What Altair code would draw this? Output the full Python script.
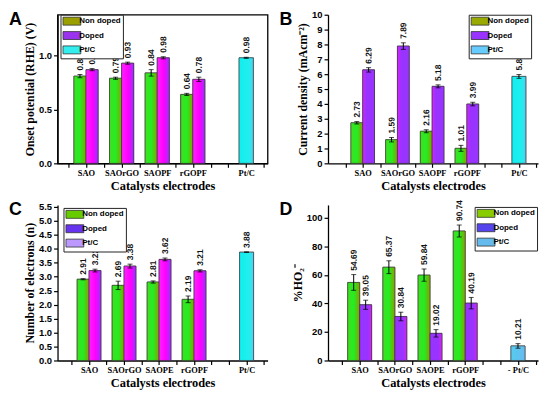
import altair as alt
import pandas as pd

series = ["Non doped", "Doped", "Pt/C"]
cat_pos = [1, 2, 3, 4, 5.5]

# Panel A: onset potential
A_cats = ["SAO", "SAOrGO", "SAOPF", "rGOPF", "Pt/C"]
A_non = [0.81, 0.79, 0.84, 0.64]
A_non_err = [0.015, 0.01, 0.03, 0.01]
A_dop = [0.87, 0.93, 0.98, 0.78]
A_dop_err = [0.01, 0.01, 0.01, 0.02]
A_pt = [0.98]
A_pt_err = [0.005]

# Panel B: current density
B_cats = ["SAO", "SAOrGO", "SAOPF", "rGOPF", "Pt/C"]
B_non = [2.73, 1.59, 2.16, 1.01]
B_non_err = [0.08, 0.15, 0.1, 0.2]
B_dop = [6.29, 7.89, 5.18, 3.99]
B_dop_err = [0.15, 0.22, 0.1, 0.12]
B_pt = [5.85]
B_pt_err = [0.13]

# Panel C: number of electrons
C_cats = ["SAO", "SAOrGO", "SAOPE", "rGOPF", "Pt/C"]
C_non = [2.91, 2.69, 2.81, 2.19]
C_non_err = [0.02, 0.15, 0.04, 0.12]
C_dop = [3.22, 3.38, 3.62, 3.21]
C_dop_err = [0.05, 0.07, 0.05, 0.04]
C_pt = [3.88]
C_pt_err = [0.01]

# Panel D: %HO2-
D_cats = ["SAO", "SAOrGO", "SAOPE", "rGOPF", "- Pt/C"]
D_non = [54.69, 65.37, 59.84, 90.74]
D_non_err = [5.5, 4.5, 4.3, 4.2]
D_dop = [39.05, 30.84, 19.02, 40.19]
D_dop_err = [3.2, 3.0, 2.6, 4.0]
D_pt = [10.21]
D_pt_err = [1.6]


def make_df(cats, non, non_err, dop, dop_err, pt, pt_err):
    rows = []
    for i in range(4):
        rows.append(dict(cat=cats[i], pos=cat_pos[i], series="Non doped", value=non[i], err=non_err[i]))
        rows.append(dict(cat=cats[i], pos=cat_pos[i], series="Doped", value=dop[i], err=dop_err[i]))
    rows.append(dict(cat=cats[4], pos=cat_pos[4], series="Pt/C", value=pt[0], err=pt_err[0]))
    return pd.DataFrame(rows)


def grad(stops):
    return alt.LinearGradient(
        gradient="linear", x1=0, x2=1, y1=0, y2=0,
        stops=[alt.GradientStop(offset=o, color=c) for o, c in stops],
    )


def panel(letter, df, cats, xdom, ydom, yvals, yfmt, ytitle, legend_colors, grads, lx, ly,
          frame=False):
    label_expr = " : ".join(
        f"datum.value == {p} ? '{c}'" for p, c in zip(cat_pos, cats)
    ) + " : ''"
    tick_vals = [0.5 * k for k in range(1, 13)]
    xaxis = alt.Axis(values=tick_vals, tickCount=100, labelExpr=label_expr, title="Catalysts electrodes",
                     labelFont="Liberation Serif", labelFontSize=8.5, titleFontSize=12.5,
                     titlePadding=3, labelAngle=0, labelPadding=1, labelOverlap=False)
    xscale = alt.Scale(domain=xdom, nice=False, zero=False)
    yscale = alt.Scale(domain=ydom, nice=False)
    yaxis = alt.Axis(values=yvals, tickCount=100, format=yfmt, title=ytitle, titlePadding=2,
                     labelOverlap=False)
    base = alt.Chart(df).transform_calculate(
        lo="datum.series == 'Non doped' ? datum.pos - 0.34 : (datum.series == 'Doped' ? datum.pos : datum.pos - 0.2)",
        hi="datum.series == 'Non doped' ? datum.pos : (datum.series == 'Doped' ? datum.pos + 0.34 : datum.pos + 0.2)",
        mid="(datum.lo + datum.hi) / 2",
        top="datum.value + datum.err",
    )
    legend = alt.Legend(orient="none", legendX=lx, legendY=ly, title=None, direction="vertical",
                        fillColor="white", strokeColor="#222", padding=2,
                        labelFont="Liberation Sans", labelFontWeight="bold", labelFontSize=8,
                        labelColor="black",
                        symbolType="M-1,-1H3.5V1H-1Z", symbolSize=64, symbolStrokeColor="#333",
                        symbolStrokeWidth=0.8, symbolOpacity=1, rowPadding=1.5, labelOffset=8)
    y_enc = alt.Y("value:Q", scale=yscale, axis=yaxis, title=ytitle)
    bars = base.mark_rect(stroke="#333", strokeWidth=0.6).encode(
        x=alt.X("lo:Q", scale=xscale, axis=xaxis, title="Catalysts electrodes"),
        x2="hi:Q",
        y=y_enc,
        y2=alt.datum(0),
        color=alt.Color("series:N", scale=alt.Scale(domain=series, range=legend_colors), legend=legend),
    )
    layers = [bars]
    for s, g in zip(series, grads):
        layers.append(
            base.transform_filter(f"datum.series == '{s}'").mark_rect(
                fill=grad(g), stroke="#333", strokeWidth=0.6
            ).encode(x=alt.X("lo:Q", title="Catalysts electrodes"), x2="hi:Q", y=y_enc, y2=alt.datum(0))
        )
    layers.append(
        base.mark_errorbar(ticks=True, color="black", thickness=1).encode(
            x=alt.X("mid:Q", title="Catalysts electrodes"), y=y_enc, yError="err:Q"
        )
    )
    layers.append(
        base.mark_text(angle=269.9, align="left", baseline="middle", dx=4, fontSize=8.5,
                       fontWeight="bold", font="Liberation Sans", color="#111").encode(
            x=alt.X("mid:Q", title="Catalysts electrodes"),
            y=alt.Y("top:Q", title=ytitle),
            text=alt.Text("value:Q", format=".2f"),
        )
    )
    layers.append(
        alt.Chart(pd.DataFrame({"t": [letter]})).mark_text(
            align="left", baseline="top", fontSize=18, font="Liberation Sans",
            fontWeight="bold", color="black"
        ).encode(text="t:N", x=alt.value(-49), y=alt.value(-4))
    )
    props = dict(width=212)
    if frame:
        props["view"] = alt.ViewBackground(stroke="black", strokeWidth=1.3)
    return alt.layer(*layers).properties(**props)


g_non = [(0, "#44dd22"), (0.5, "#22ee22"), (1, "#8a9f00")]
g_dop_mag = [(0, "#ff22ff"), (0.55, "#ff00ff"), (1, "#9933ff")]
g_dop_pur = [(0, "#dd22ff"), (0.3, "#9933ff"), (1, "#9933ff")]
g_dop_d = [(0, "#9933ff"), (0.7, "#9933ff"), (1, "#dd22ee")]
g_pt_cyan = [(0, "#11eeee"), (0.7, "#22eeee"), (1, "#55ccee")]
g_pt_blue = [(0, "#55ccf0"), (1, "#66bbee")]

A = panel("A", make_df(A_cats, A_non, A_non_err, A_dop, A_dop_err, A_pt, A_pt_err), A_cats,
          [0.2, 6.1], [0, 1.38], [0, 0.5, 1.0], ".1f", "Onset potential (RHE) (V)",
          ["#9aa000", "#9933ee", "#33eeee"], [g_non, g_dop_mag, g_pt_cyan], 3, 0, frame=True
          ).properties(height=150)
B = panel("B", make_df(B_cats, B_non, B_non_err, B_dop, B_dop_err, B_pt, B_pt_err), B_cats,
          [0.0, 6.05], [0, 10], list(range(0, 11)), "d", "Current density (mAcm⁻²)",
          ["#99aa00", "#9933ff", "#66ccff"], [g_non, g_dop_pur, g_pt_cyan], 142, 0
          ).properties(height=150)
C = panel("C", make_df(C_cats, C_non, C_non_err, C_dop, C_dop_err, C_pt, C_pt_err), C_cats,
          [0.1, 6.1], [0, 5.57], [0.5 * k for k in range(0, 12)], ".1f", "Number of electrons (n)",
          ["#66cc00", "#6633ee", "#bb99ff"], [g_non, g_dop_mag, g_pt_cyan], 6, 3
          ).properties(height=157)
D = panel("D", make_df(D_cats, D_non, D_non_err, D_dop, D_dop_err, D_pt, D_pt_err), D_cats,
          [0.1, 6.07], [0, 109], [0, 20, 40, 60, 80, 100], "d", "%HO₂⁻",
          ["#88cc00", "#5544ee", "#66bbee"], [g_non, g_dop_d, g_pt_blue], 148, 2
          ).properties(height=157)

chart = alt.concat(A, B, C, D, columns=2, spacing={"row": 42, "column": 61}).properties(
    bounds="flush", padding={"left": 0, "top": 0, "right": 4, "bottom": 0}
).resolve_scale(x="independent", y="independent", color="independent").resolve_legend(
    color="independent"
).configure_view(stroke=None).configure_axis(
    domainColor="black", domainWidth=1.3, tickColor="black", tickWidth=1.2, tickSize=4,
    labelColor="black", labelFont="Liberation Sans", labelFontWeight="bold", labelFontSize=9.5,
    titleFont="Liberation Serif", titleFontWeight="bold", titleFontSize=12, titleColor="black",
    grid=False, labelPadding=2,
)

chart.save("out.html", embed_options={"renderer": "svg", "actions": False})
